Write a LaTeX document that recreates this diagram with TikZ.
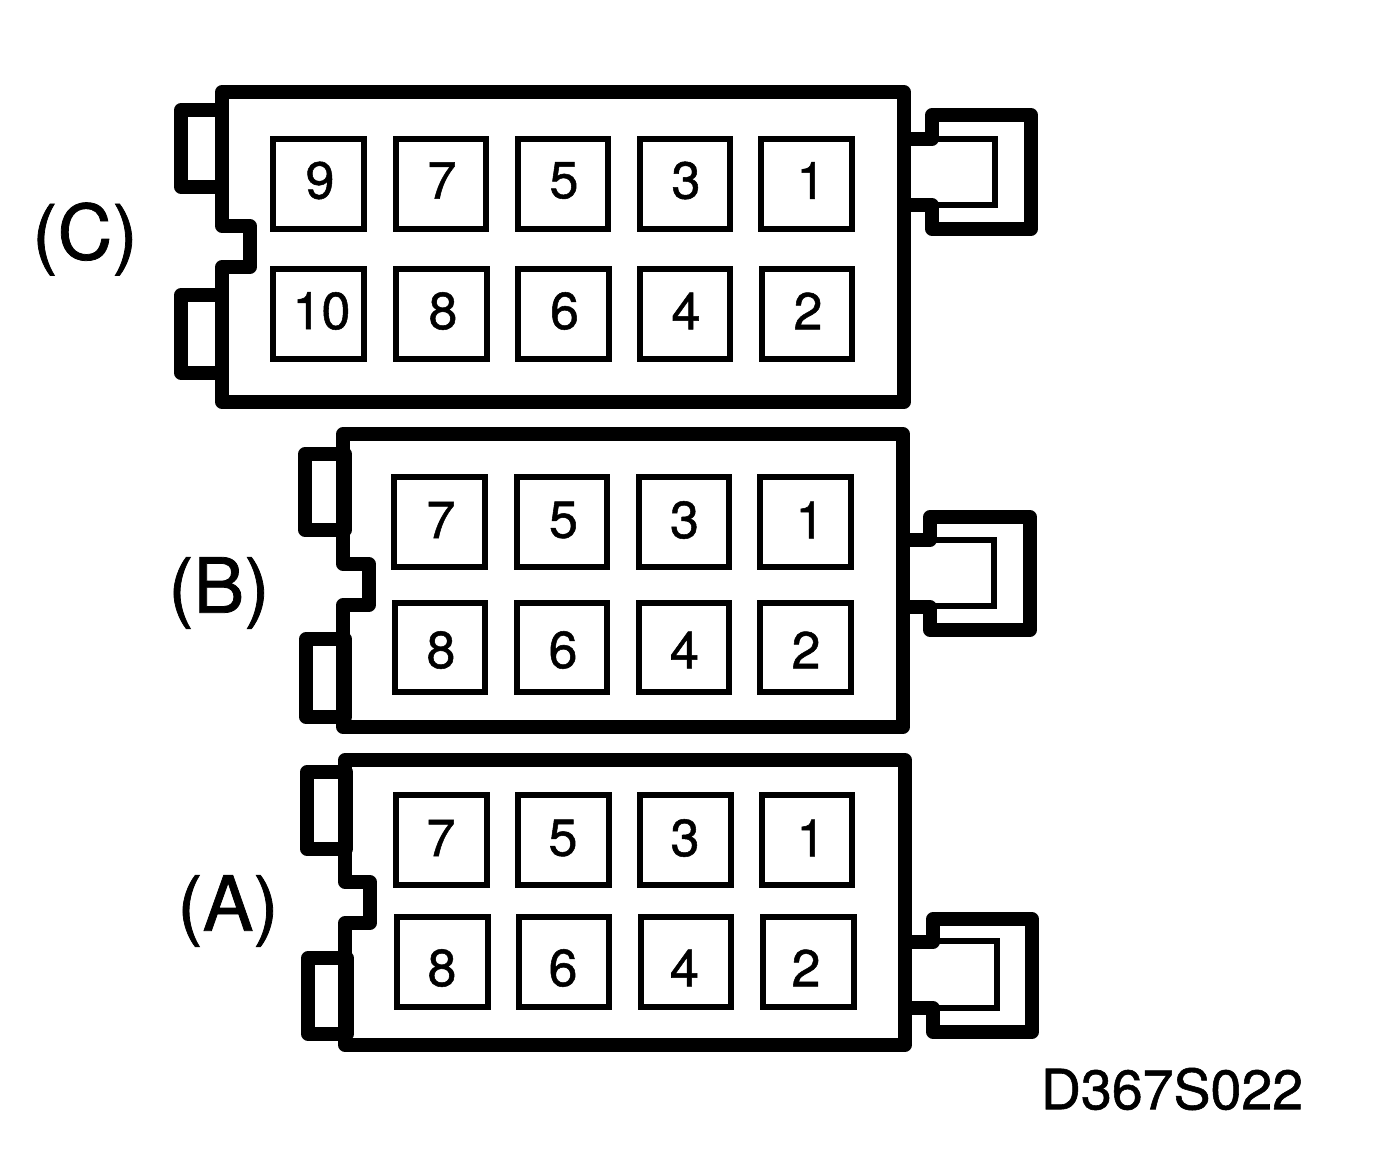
\documentclass[tikz,border=0pt]{standalone}
\usepackage{fontspec}
\setmainfont[BoldFont={TeX Gyre Heros},BoldFeatures={FakeBold=1}]{TeX Gyre Heros}
\tikzset{
  wall/.style={draw=black,line width=13.5pt,line join=round,line cap=round},
  thinwall/.style={draw=black,line width=6pt,line join=miter},
  pin/.style={draw=black,line width=6pt,rectangle,minimum width=90.5pt,minimum height=89.5pt,inner sep=0pt,outer sep=0pt},
  digit/.style={inner sep=0pt,outer sep=0pt,font=\fontsize{52}{52}\selectfont\bfseries},
  lab/.style={inner sep=0pt,font=\fontsize{76}{76}\selectfont\bfseries},
  code/.style={inner sep=0pt,font=\fontsize{55.5}{55.5}\selectfont\bfseries}
}
\begin{document}
\begin{tikzpicture}[x=1pt,y=-1pt]
\useasboundingbox (0,0) rectangle (1376,1158);
\fill[white] (0,0) rectangle (1376,1158);
% C
\draw[wall] (222,110) -- (222,92) -- (904,92) -- (904,402) -- (222,402) -- (222,267) -- (250,267) -- (250,226) -- (222,226) -- (222,110);
\draw[wall] (222,110) -- (181,110) -- (181,187) -- (222,187);
\draw[wall] (222,295) -- (181,295) -- (181,373) -- (222,373);
\draw[wall] (904,139) -- (932,139) -- (932,115) -- (1031,115) -- (1031,229) -- (932,229) -- (932,205) -- (904,205);
\draw[thinwall] (932,139) -- (995,139) -- (995,205) -- (932,205);
\foreach \n/\bx/\by/\dx/\dy/\t in {
  c9/318.5/184/320/180.5/9, c7/441/184/442/180.5/7, c5/563/184/564/180.5/5, c3/685/184/686/180.5/3, c1/806.5/184/811/180.5/1,
  c10/318.5/314/321.5/311/10, c8/441.5/314/443/311/8, c6/563.5/314/564.5/311/6, c4/685/314/686/311/4, c2/807/314/808/311/2}{
  \node[pin] (p\n) at (\bx,\by) {};
  \node[digit] (d\n) at (\dx,\dy) {\t};
}
\node[lab] (labc) at (85,239) {(C)};
% B
\draw[wall] (343,454) -- (343,434) -- (903,434) -- (903,727) -- (343,727) -- (343,605) -- (369,605) -- (369,564) -- (343,564) -- (343,454);
\draw[wall] (345,454) -- (305,454) -- (305,530) -- (345,530) -- cycle;
\draw[wall] (345,639) -- (306,639) -- (306,717) -- (345,717) -- cycle;
\draw[wall] (903,540) -- (930,540) -- (930,517) -- (1030,517) -- (1030,630) -- (930,630) -- (930,607) -- (903,607);
\draw[thinwall] (930,540) -- (994,540) -- (994,606) -- (930,606);
\foreach \n/\bx/\by/\dx/\dy/\t in {
  b7/439.5/522/441/520/7, b5/562/522/563.5/520/5, b3/684/522/684.5/520/3, b1/805.5/522/810/520/1,
  b8/440/647.5/441/650/8, b6/562/647.5/563/650/6, b4/684/647.5/684.5/650/4, b2/805.5/647.5/806/650/2}{
  \node[pin] (p\n) at (\bx,\by) {};
  \node[digit] (d\n) at (\dx,\dy) {\t};
}
\node[lab] (labb) at (219,593) {(B)};
% A
\draw[wall] (345,772) -- (345,760) -- (905,760) -- (905,1045) -- (345,1045) -- (345,923) -- (370,923) -- (370,882) -- (345,882) -- (345,772);
\draw[wall] (346,772) -- (307,772) -- (307,849) -- (346,849) -- cycle;
\draw[wall] (347,958) -- (308,958) -- (308,1034) -- (347,1034) -- cycle;
\draw[wall] (905,942) -- (933,942) -- (933,919) -- (1032,919) -- (1032,1032) -- (933,1032) -- (933,1008) -- (905,1008);
\draw[thinwall] (933,941) -- (997,941) -- (997,1008) -- (933,1008);
\foreach \n/\bx/\by/\dx/\dy/\t in {
  a7/441.5/840/441/838/7, a5/563.5/840/563/838/5, a3/685.5/840/685/838/3, a1/807/840/811/838/1,
  a8/442.5/962/442/968/8, a6/564/962/563/968/6, a4/686/962/684.5/968/4, a2/808.5/962/806/968/2}{
  \node[pin] (p\n) at (\bx,\by) {};
  \node[digit] (d\n) at (\dx,\dy) {\t};
}
\node[lab] (laba) at (228,911) {(A)};
\node[code] (code) at (1172,1089) {D367S022};
\end{tikzpicture}
\end{document}
